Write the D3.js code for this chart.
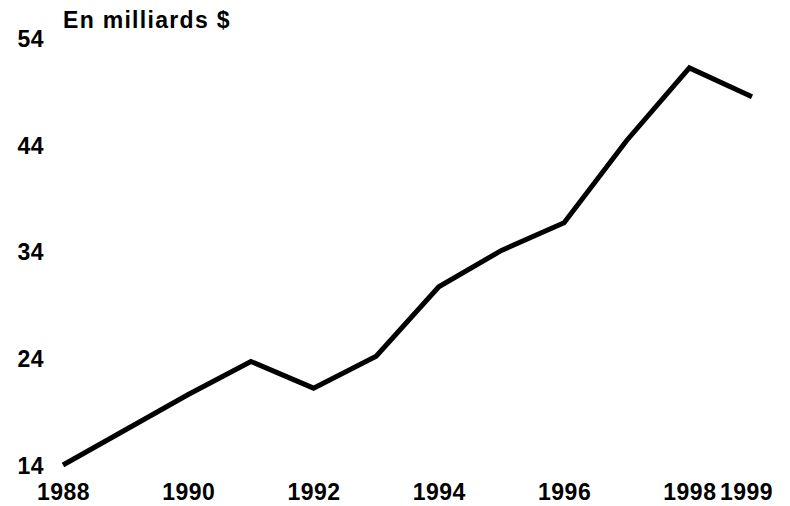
<!DOCTYPE html>
<html>
<head>
<meta charset="utf-8">
<script src="https://cdn.jsdelivr.net/npm/d3@7"></script>
<style>
  body { margin: 0; background: #fff; }
  svg text { font-family: "Liberation Sans", Arial, sans-serif; font-weight: bold; }
</style>
</head>
<body>
<svg width="790" height="506"></svg>
<script>
const svg = d3.select('svg');

// data
const years = [1988, 1989, 1990, 1991, 1992, 1993, 1994, 1995, 1996, 1997, 1998, 1999];
const values = [14.0, 17.3, 20.6, 23.7, 21.2, 24.2, 30.7, 34.1, 36.7, 44.4, 51.2, 48.5];
const yTicks = [14, 24, 34, 44, 54];
const xTicks = [1988, 1990, 1992, 1994, 1996, 1998, 1999];
const unitLabel = 'En milliards $';

const data = years.map((y, i) => ({year: y, value: values[i]}));

// scales
const xScale = d3.scaleLinear().domain([1988, 1999]).range([63, 752]);
const yScale = d3.scaleLinear().domain([14, 54]).range([465, 38]);

// y axis: labels only
const yAxis = d3.axisLeft(yScale).tickValues(yTicks).tickSize(0).tickPadding(0);
const gy = svg.append('g').attr('transform', 'translate(44,0)').call(yAxis);
gy.select('.domain').remove();
gy.selectAll('.tick text')
  .attr('font-size', 23)
  .attr('letter-spacing', 0.5)
  .attr('fill', '#000')
  .attr('dy', '0.36em');

// x axis: labels only
const xAxis = d3.axisBottom(xScale).tickValues(xTicks).tickFormat(d3.format('d')).tickSize(0).tickPadding(0);
const gx = svg.append('g').attr('transform', 'translate(0,483)').call(xAxis);
gx.select('.domain').remove();
gx.selectAll('.tick text')
  .attr('font-size', 23)
  .attr('letter-spacing', 0.5)
  .attr('fill', '#000')
  .attr('dy', '0.72em')
  .attr('dx', d => d === 1999 ? -6 : 0);

// line
const line = d3.line().x(d => xScale(d.year)).y(d => yScale(d.value));
svg.append('path')
  .datum(data)
  .attr('d', line)
  .attr('fill', 'none')
  .attr('stroke', '#000')
  .attr('stroke-width', 5)
  .attr('stroke-linejoin', 'miter');

// unit title
svg.append('text')
  .text(unitLabel)
  .attr('x', 63)
  .attr('y', 28)
  .attr('font-size', 23)
  .attr('letter-spacing', 1.3)
  .attr('fill', '#000');
</script>
</body>
</html>
